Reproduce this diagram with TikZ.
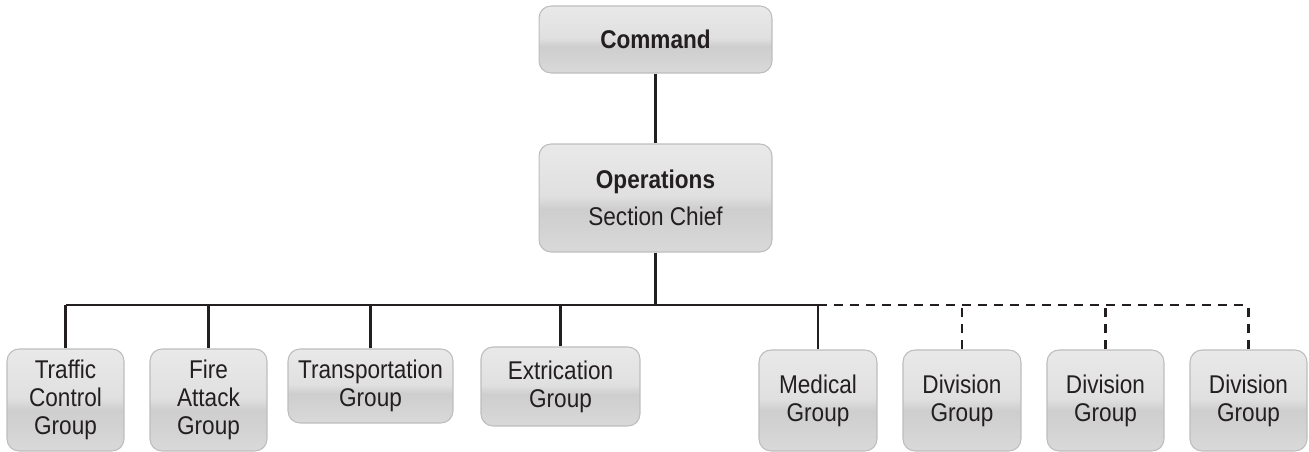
\documentclass[tikz,border=0pt]{standalone}
\usepackage{fontspec}
\setmainfont{Liberation Sans}[FakeStretch=0.88]
\usepackage{tikz}
\usetikzlibrary{positioning}
\definecolor{boxTop}{HTML}{E9E9E9}
\definecolor{boxMid}{HTML}{E0E0E0}
\definecolor{boxLow}{HTML}{CECECE}
\definecolor{boxBot}{HTML}{D9D9D9}
\definecolor{boxEdge}{HTML}{BDBDBD}
\definecolor{ink}{HTML}{231F20}
\pgfdeclareverticalshading{glossy}{100bp}{color(0bp)=(boxBot); color(25bp)=(boxBot);
  color(45bp)=(boxLow); color(51bp)=(boxMid); color(75bp)=(boxTop); color(100bp)=(boxTop)}
\tikzset{
  unit/.style={rectangle,rounded corners=0.24cm,draw=boxEdge,line width=0.6pt,shading=glossy,
    text=ink,align=center,inner sep=0pt,font=\fontsize{14.6}{15.8}\selectfont},
  link/.style={draw=ink,line width=1.4pt},
  reserve/.style={link,dash pattern=on 0.18cm off 0.14cm}}
\begin{document}
\begin{tikzpicture}[x=0.02cm,y=-0.02cm]
        \useasboundingbox (0,0) rectangle (1309,452);

        \node[unit,minimum width=4.66cm,minimum height=1.34cm] (cmd) at (655.5,39.5) {\textbf{Command}};
        \node[unit,minimum width=4.66cm,minimum height=2.16cm] (ops) at (655.5,198) {\textbf{Operations}\\[5pt]Section Chief};

        \node[unit,minimum width=2.34cm,minimum height=2.04cm] (traffic) at (65.5,400) {Traffic\\Control\\Group};
        \node[unit,minimum width=2.34cm,minimum height=2.04cm] (fire) at (208.5,400) {Fire\\Attack\\Group};
        \node[unit,minimum width=3.30cm,minimum height=1.48cm] (transport) at (370.5,386) {Transportation\\Group};
        \node[unit,minimum width=3.18cm,minimum height=1.58cm] (extrication) at (560.5,386.5) {Extrication\\Group};
        \node[unit,minimum width=2.36cm,minimum height=2.02cm] (medical) at (818,400.5) {Medical\\Group};
        \node[unit,minimum width=2.36cm,minimum height=2.02cm] (divA) at (962,400.5) {Division\\Group};
        \node[unit,minimum width=2.34cm,minimum height=2.02cm] (divB) at (1105.5,400.5) {Division\\Group};
        \node[unit,minimum width=2.34cm,minimum height=2.02cm] (divC) at (1248.5,400.5) {Division\\Group};

        \coordinate (bus) at (0,305);

        \draw[link] (cmd) -- (ops);
        \draw[link] (ops.south) -- (ops.south |- bus);
        \draw[link] (traffic.north |- bus) -- (medical.north |- bus);
        \draw[reserve] (medical.north |- bus) -- (divC.north |- bus);

        \draw[link] (traffic.north) -- (traffic.north |- bus);
        \draw[link] (fire.north) -- (fire.north |- bus);
        \draw[link] (transport.north) -- (transport.north |- bus);
        \draw[link] (extrication.north) -- (extrication.north |- bus);
        \draw[link] (medical.north) -- (medical.north |- bus);
        \draw[reserve] (divA.north) -- (divA.north |- bus);
        \draw[reserve] (divB.north) -- (divB.north |- bus);
        \draw[reserve] (divC.north) -- (divC.north |- bus);
\end{tikzpicture}
\end{document}
